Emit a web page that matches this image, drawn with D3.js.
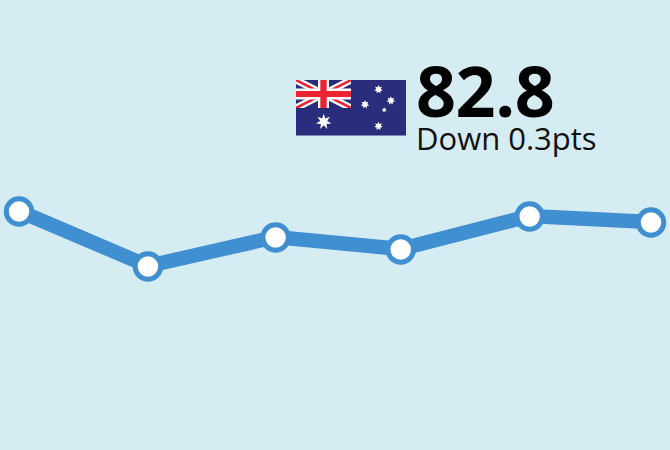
<!DOCTYPE html>
<html><head><meta charset="utf-8">
<script src="https://cdn.jsdelivr.net/npm/d3@7"></script>
<style>html,body{margin:0;padding:0;background:#d5edf2}svg{display:block}</style>
</head><body><div id="c"></div>
<script>
const periods = [0, 1.02, 2.03, 3.02, 4.04, 5];
const values = [83.35, 80.6, 82.05, 81.45, 83.1, 82.8];
const headline = "82.8";
const subline = "Down 0.3pts";
const crossStars = [[0.5,0.17,0.62],[0.725,0.37,0.62],[0.255,0.44,0.62],[0.605,0.54,0.36],[0.5,0.83,0.62]];

const W = 670, H = 450;
const svg = d3.select("#c").append("svg").attr("width", W).attr("height", H);
svg.append("rect").attr("width", W).attr("height", H).attr("fill", "#d5edf2");
const x = d3.scaleLinear().domain([0,5]).range([19,651]);
const y = d3.scaleLinear().domain([71.5,94]).range([448,-2]);
const pts = periods.map((p,i)=>[x(p),y(values[i])]);
svg.append("path").attr("d", d3.line()(pts)).attr("fill","none").attr("stroke","#408fd1").attr("stroke-width",14.5);
svg.selectAll("circle").data(pts).join("circle")
  .attr("cx",d=>d[0]).attr("cy",d=>d[1]+0.5).attr("r",12.75).attr("fill","#fff").attr("stroke","#408fd1").attr("stroke-width",5);

// flag
const fw=110, fh=55.5;
const flag = svg.append("g").attr("transform","translate(296,80)");
flag.append("rect").attr("width",fw).attr("height",fh).attr("fill","#2a2d7c");
const cw=fw/2, ch=28;
svg.append("clipPath").attr("id","cant").append("rect").attr("width",cw).attr("height",ch);
const u = flag.append("g").attr("clip-path","url(#cant)");
[[[0,0],[cw,ch]],[[0,ch],[cw,0]]].forEach(l=>{
  u.append("line").attr("x1",l[0][0]).attr("y1",l[0][1]).attr("x2",l[1][0]).attr("y2",l[1][1]).attr("stroke","#fff").attr("stroke-width",7);
  u.append("line").attr("x1",l[0][0]).attr("y1",l[0][1]).attr("x2",l[1][0]).attr("y2",l[1][1]).attr("stroke","#ed2332").attr("stroke-width",2.5);
});
u.append("rect").attr("x",cw/2-5.5).attr("width",11).attr("height",ch).attr("fill","#fff");
u.append("rect").attr("y",ch/2-5.5).attr("width",cw).attr("height",11).attr("fill","#fff");
u.append("rect").attr("x",cw/2-3.2).attr("width",6.4).attr("height",ch).attr("fill","#ed2332");
u.append("rect").attr("y",ch/2-3).attr("width",cw).attr("height",6).attr("fill","#ed2332");
function star(cx,cy,R,r,n){
  const p=d3.range(n*2).map(i=>{const a=-Math.PI/2+i*Math.PI/n,q=i%2?r:R;return [cx+q*Math.cos(a),cy+q*Math.sin(a)];});
  flag.append("path").attr("d",d3.line()(p)+"Z").attr("fill","#fff");
}
star(27.7,41.7,8,3.6,7);
crossStars.forEach(s=>star(cw+s[0]*cw,s[1]*fh,s[2]*7,s[2]*3.8,7));

svg.append("text").attr("x",416).attr("y",117).text(headline)
  .attr("font-family","'Open Sans',sans-serif").attr("font-weight",700).attr("font-size",70).attr("letter-spacing",-0.4).attr("fill","#000");
svg.append("text").attr("x",416).attr("y",149.5).text(subline)
  .attr("font-family","'Open Sans',sans-serif").attr("font-size",31).attr("fill","#111");
</script></body></html>
